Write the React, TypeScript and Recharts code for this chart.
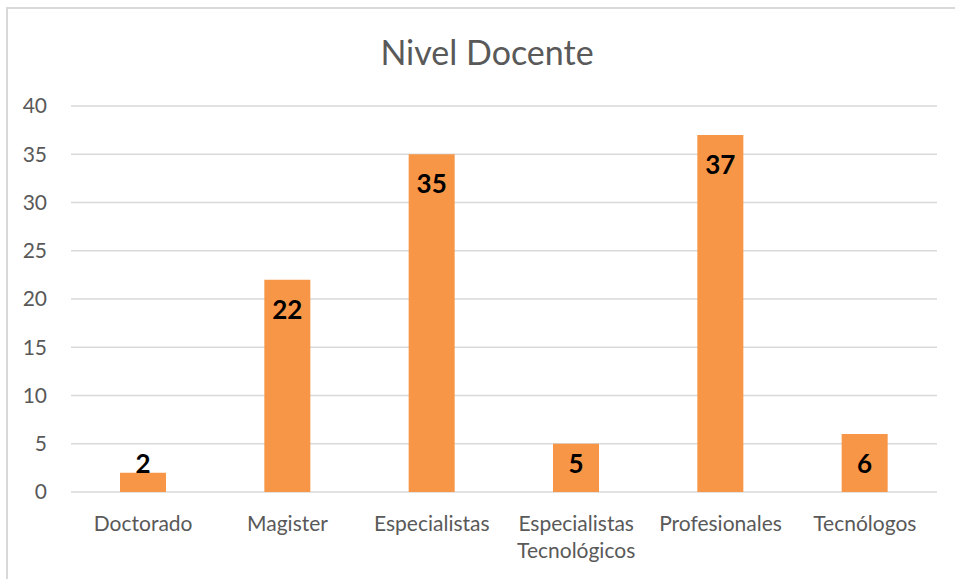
import { BarChart, Bar, XAxis, YAxis, CartesianGrid, LabelList } from "recharts"

const niveles = ["Doctorado", "Magister", "Especialistas", "Especialistas Tecnológicos", "Profesionales", "Tecnólogos"]
const docentes = [2, 22, 35, 5, 37, 6]
const yTicks = [0, 5, 10, 15, 20, 25, 30, 35, 40]

const data = niveles.map((nivel, i) => ({ nivel, docentes: docentes[i] }))

const FONT = "Lato, 'Noto Sans', sans-serif"
const GRAY = "#595959"

function NivelTick(props: any) {
  const { x, y, payload } = props
  const label: string = payload.value
  const lines = label.length > 15 ? label.split(" ") : [label]
  return (
    <text x={x} y={y} textAnchor="middle" fill={GRAY} fontSize={21} fontFamily={FONT}>
      {lines.map((l, i) => (
        <tspan key={i} x={x} dy={i === 0 ? 39 : 27}>
          {l}
        </tspan>
      ))}
    </text>
  )
}

function ValueLabel(props: any) {
  const { x, y, width, height, value } = props
  // dentro del extremo, pero nunca mas abajo que el fondo de la barra
  const cy = Math.min(y + 30, y + height - 28)
  return (
    <text x={x + width / 2} y={cy} dy="0.35em" textAnchor="middle" fill="#000" fontSize={26} fontWeight={700} fontFamily={FONT}>
      {value}
    </text>
  )
}

export default function App() {
  return (
    <div style={{ position: "absolute", left: 0, top: 0, width: 955, height: 579, overflow: "hidden", background: "#fff" }}>
      <div style={{ position: "absolute", left: 6, top: 7, width: 970, height: 590, border: "2px solid #d9d9d9", boxSizing: "border-box" }} />
      <div style={{ position: "absolute", left: 7, top: 30, width: 960, textAlign: "center", fontFamily: FONT, fontSize: 34, color: GRAY, lineHeight: "44px" }}>
        Nivel Docente
      </div>
      <BarChart
        width={955}
        height={579}
        data={data}
        margin={{ top: 106, right: 18, left: 0, bottom: 27 }}
        style={{ position: "absolute", left: 0, top: 0 }}
      >
        <CartesianGrid vertical={false} stroke="#d9d9d9" strokeWidth={1.5} />
        <XAxis dataKey="nivel" height={60} axisLine={false} tickLine={false} tickSize={0} tickMargin={0} tick={<NivelTick />} interval={0} />
        <YAxis
          width={71}
          domain={[0, 40]}
          ticks={yTicks}
          axisLine={false}
          tickLine={false}
          tickSize={0}
          tickMargin={24}
          tick={{ fill: GRAY, fontSize: 21, fontFamily: FONT }}
        />
        <Bar dataKey="docentes" fill="#f79646" barSize={46} isAnimationActive={false}>
          <LabelList dataKey="docentes" content={<ValueLabel />} />
        </Bar>
      </BarChart>
    </div>
  )
}
